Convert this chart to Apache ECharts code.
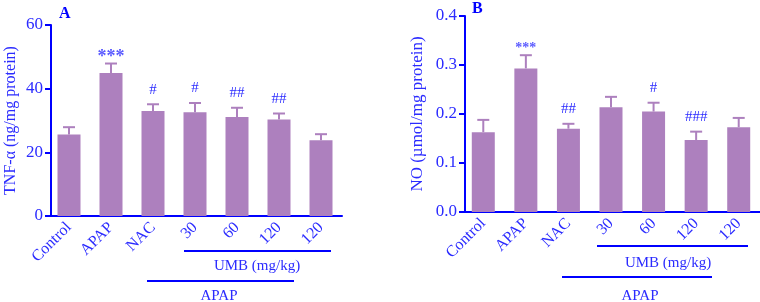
<!DOCTYPE html>
<html>
<head>
<meta charset="utf-8">
<script src="https://cdn.jsdelivr.net/npm/echarts@6/dist/echarts.min.js"></script>
<style>
html,body{margin:0;padding:0;background:#fff;}
#main{width:760px;height:302px;}
</style>
</head>
<body>
<div id="main"></div>
<script>
var categories = ['Control', 'APAP', 'NAC', '30', '60', '120', '120'];
// panel A: TNF-alpha
var tnfMean = [25.6, 44.9, 33.0, 32.6, 31.1, 30.3, 23.8];
var tnfErr  = [2.3, 3.0, 2.1, 2.9, 2.9, 1.9, 1.9];
var tnfSig  = ['', '***', '#', '#', '##', '##', ''];
// panel B: NO
var noMean = [0.163, 0.293, 0.170, 0.214, 0.205, 0.147, 0.173];
var noErr  = [0.025, 0.027, 0.010, 0.021, 0.018, 0.017, 0.019];
var noSig  = ['', '***', '##', '', '#', '###', ''];

var BLUE = '#0000ff';
var TXT = '#2b2bff';
var BAR = '#ad80be';
var FONT = '"Liberation Serif", "Times New Roman", serif';

var chart = echarts.init(document.getElementById('main'));

function errData(mean, err) {
    return mean.map(function (m, i) { return [i, m, m + err[i]]; });
}

// significance marks, per error series
var sigInfo = {
    2: {labels: tnfSig, star: 18, starDy: 3},
    3: {labels: noSig, star: 14, starDy: 0}
};

function renderErr(params, api) {
    var p0 = api.coord([api.value(0), api.value(1)]);
    var p1 = api.coord([api.value(0), api.value(2)]);
    var info = sigInfo[params.seriesIndex];
    var label = info.labels[params.dataIndex];
    var kids = [
        {type: 'line', shape: {x1: p0[0], y1: p0[1], x2: p1[0], y2: p1[1]},
         style: {stroke: BAR, lineWidth: 2}},
        {type: 'line', shape: {x1: p1[0] - 6, y1: p1[1], x2: p1[0] + 6, y2: p1[1]},
         style: {stroke: BAR, lineWidth: 2}}
    ];
    if (label) {
        var star = label.indexOf('*') >= 0;
        kids.push({type: 'text', x: p1[0], y: p1[1] + (star ? info.starDy : -7),
            style: {text: label, fill: star ? '#5a5aff' : TXT,
                    font: star ? 'bold ' + info.star + 'px ' + FONT : '15px ' + FONT,
                    align: 'center', verticalAlign: 'bottom'}});
    }
    return {type: 'group', children: kids};
}

function xAx(idx) {
    return {
        type: 'category', gridIndex: idx, data: categories,
        axisLine: {lineStyle: {color: BLUE, width: 2}},
        axisTick: {show: false},
        axisLabel: {rotate: 45, color: TXT, fontFamily: FONT, fontSize: 16, margin: 9, interval: 0}
    };
}
function yAx(idx, max, interval, name, dec, gap, nameSize) {
    return {
        type: 'value', gridIndex: idx, min: 0, max: max, interval: interval,
        offset: -3,
        name: name, nameLocation: 'middle', nameGap: gap,
        nameTextStyle: {color: TXT, fontFamily: FONT, fontSize: nameSize},
        axisLine: {show: true, lineStyle: {color: BLUE, width: 2}},
        axisTick: {show: true, length: 6, lineStyle: {color: BLUE, width: 2}},
        splitLine: {show: false},
        axisLabel: {color: TXT, fontFamily: FONT, fontSize: 17, margin: 8,
            formatter: function (v) { return dec ? v.toFixed(1) : v; }}
    };
}

chart.setOption({
    animation: false,
    textStyle: {fontFamily: FONT},
    grid: [
        {left: 48, top: 25, width: 294, height: 191},
        {left: 462, top: 16, width: 298, height: 196}
    ],
    xAxis: [xAx(0), xAx(1)],
    yAxis: [
        yAx(0, 60, 20, 'TNF-α (ng/mg protein)', false, 32, 16),
        yAx(1, 0.4, 0.1, 'NO (µmol/mg protein)', true, 39, 17)
    ],
    series: [
        {type: 'bar', xAxisIndex: 0, yAxisIndex: 0, data: tnfMean, barWidth: 23,
         itemStyle: {color: BAR}},
        {type: 'bar', xAxisIndex: 1, yAxisIndex: 1, data: noMean, barWidth: 23,
         itemStyle: {color: BAR}},
        {type: 'custom', xAxisIndex: 0, yAxisIndex: 0, data: errData(tnfMean, tnfErr),
         renderItem: renderErr, z: 3},
        {type: 'custom', xAxisIndex: 1, yAxisIndex: 1, data: errData(noMean, noErr),
         renderItem: renderErr, z: 3}
    ],
    graphic: [
        {type: 'text', left: 59, top: 6, style: {text: 'A', fill: BLUE, font: 'bold 16px ' + FONT}},
        {type: 'text', left: 472, top: 1, style: {text: 'B', fill: BLUE, font: 'bold 16px ' + FONT}},
        // group bars, panel A
        {type: 'line', shape: {x1: 184, y1: 251, x2: 331, y2: 251}, style: {stroke: BLUE, lineWidth: 2}},
        {type: 'text', x: 257, y: 266, style: {text: 'UMB (mg/kg)', fill: TXT, font: '15px ' + FONT, align: 'center', verticalAlign: 'middle'}},
        {type: 'line', shape: {x1: 147, y1: 281, x2: 294, y2: 281}, style: {stroke: BLUE, lineWidth: 2}},
        {type: 'text', x: 219, y: 296, style: {text: 'APAP', fill: TXT, font: '15px ' + FONT, align: 'center', verticalAlign: 'middle'}},
        // group bars, panel B
        {type: 'line', shape: {x1: 597, y1: 246, x2: 748, y2: 246}, style: {stroke: BLUE, lineWidth: 2}},
        {type: 'text', x: 668, y: 263, style: {text: 'UMB (mg/kg)', fill: TXT, font: '15px ' + FONT, align: 'center', verticalAlign: 'middle'}},
        {type: 'line', shape: {x1: 562, y1: 277, x2: 712, y2: 277}, style: {stroke: BLUE, lineWidth: 2}},
        {type: 'text', x: 640, y: 296, style: {text: 'APAP', fill: TXT, font: '15px ' + FONT, align: 'center', verticalAlign: 'middle'}}
    ]
});
</script>
</body>
</html>
